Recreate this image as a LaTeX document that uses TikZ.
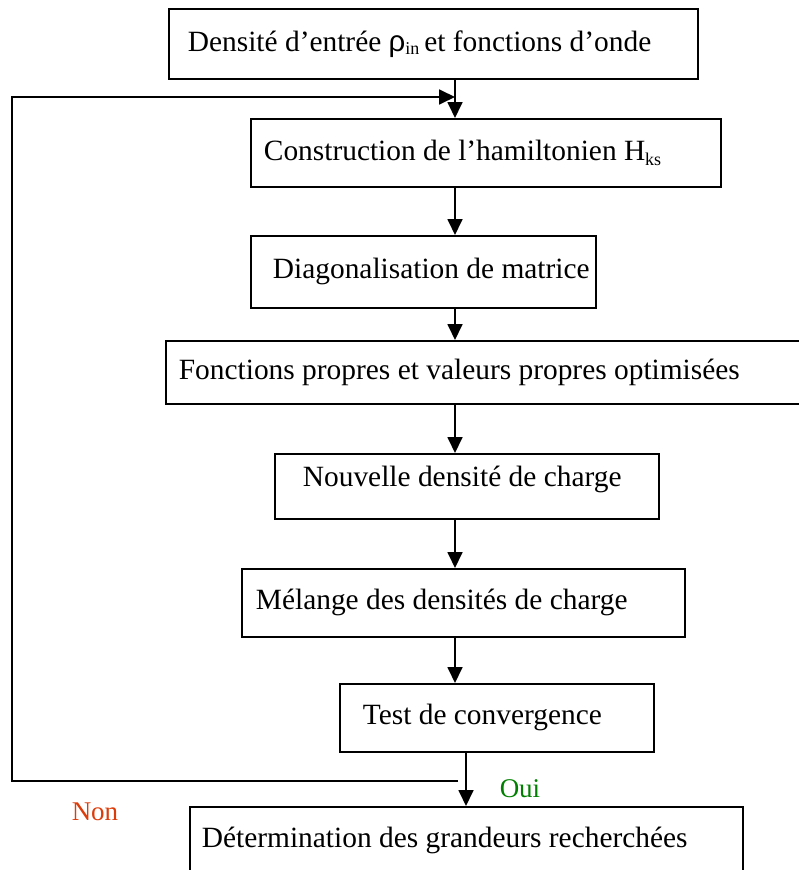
\documentclass[tikz,border=0pt]{standalone}
\usepackage{fontspec}
\setmainfont{Liberation Serif}
\newfontfamily\rhofont{Liberation Sans}
\usetikzlibrary{arrows.meta}
\definecolor{ouicol}{RGB}{0,128,0}
\definecolor{noncol}{RGB}{220,60,10}
\newcommand{\boxfont}{\fontsize{29.4}{34}\selectfont}
\newcommand{\boxtext}[4]{\makebox[#1][l]{\hspace*{#2}\raisebox{#3}{#4}}}
\tikzset{
  stepbox/.style={draw, line width=1.8pt, anchor=north west,
    inner sep=0pt, minimum height=#1, font=\boxfont},
  conn/.style={line width=1.8pt, -{Triangle[length=16pt,width=15pt]}},
  lbl/.style={font=\fontsize{27}{30}\selectfont, inner sep=0pt}
}
\begin{document}
\begin{tikzpicture}[x=1pt,y=-1pt]
\useasboundingbox (0,0) rectangle (799,870);
\node[stepbox=70pt] (top) at (168,8)
  {\boxtext{529pt}{19pt}{-4pt}{Densité d’entrée {\rhofont ρ}\raisebox{-0.25ex}{\fontsize{18}{20}\selectfont in}\,et fonctions d’onde}};
\node[stepbox=68pt] (hks) at (250,118)
  {\boxtext{470pt}{13pt}{0pt}{Construction de l’hamiltonien H\raisebox{-0.3ex}{\fontsize{18}{20}\selectfont ks}}};
\node[stepbox=72pt] (diag) at (250,235) {\boxtext{345pt}{22pt}{-6pt}{Diagonalisation de matrice}};
\node[stepbox=63pt] (fp) at (165,340) {\boxtext{680pt}{13pt}{0pt}{Fonctions propres et valeurs propres optimisées}};
\node[stepbox=65pt] (nd) at (274,453) {\boxtext{384pt}{28pt}{20pt}{Nouvelle densité de charge}};
\node[stepbox=68pt] (mel) at (241,568) {\boxtext{443pt}{14pt}{-4pt}{Mélange des densités de charge}};
\node[stepbox=68pt] (test) at (339,683) {\boxtext{314pt}{23pt}{-6pt}{Test de convergence}};
\node[stepbox=68pt] (det) at (189,806) {\boxtext{553pt}{12pt}{-2pt}{Détermination des grandeurs recherchées}};

\coordinate (a1) at (455,78);
\coordinate (a2) at (455,118);
\draw[conn] (a1) -- (a2);
\draw[conn] (455,186) coordinate (b1) -- (455,235) coordinate (b2);
\draw[conn] (455,307) coordinate (c1) -- (455,340) coordinate (c2);
\draw[conn] (455,403) coordinate (d1) -- (455,453) coordinate (d2);
\draw[conn] (455,518) coordinate (e1) -- (455,568) coordinate (e2);
\draw[conn] (455,636) coordinate (f1) -- (455,683) coordinate (f2);
\draw[conn] (466,751) coordinate (g1) -- (466,806) coordinate (g2);

\coordinate (loopstart) at (458,781);
\coordinate (loopcorner) at (12,97);
\coordinate (loopend) at (455,97);
\draw[conn] (loopstart) -| (loopcorner) -- (loopend);

\node[lbl, text=ouicol] (oui) at (520,789) {Oui};
\node[lbl, text=noncol] (non) at (95,812) {Non};
\end{tikzpicture}
\end{document}
